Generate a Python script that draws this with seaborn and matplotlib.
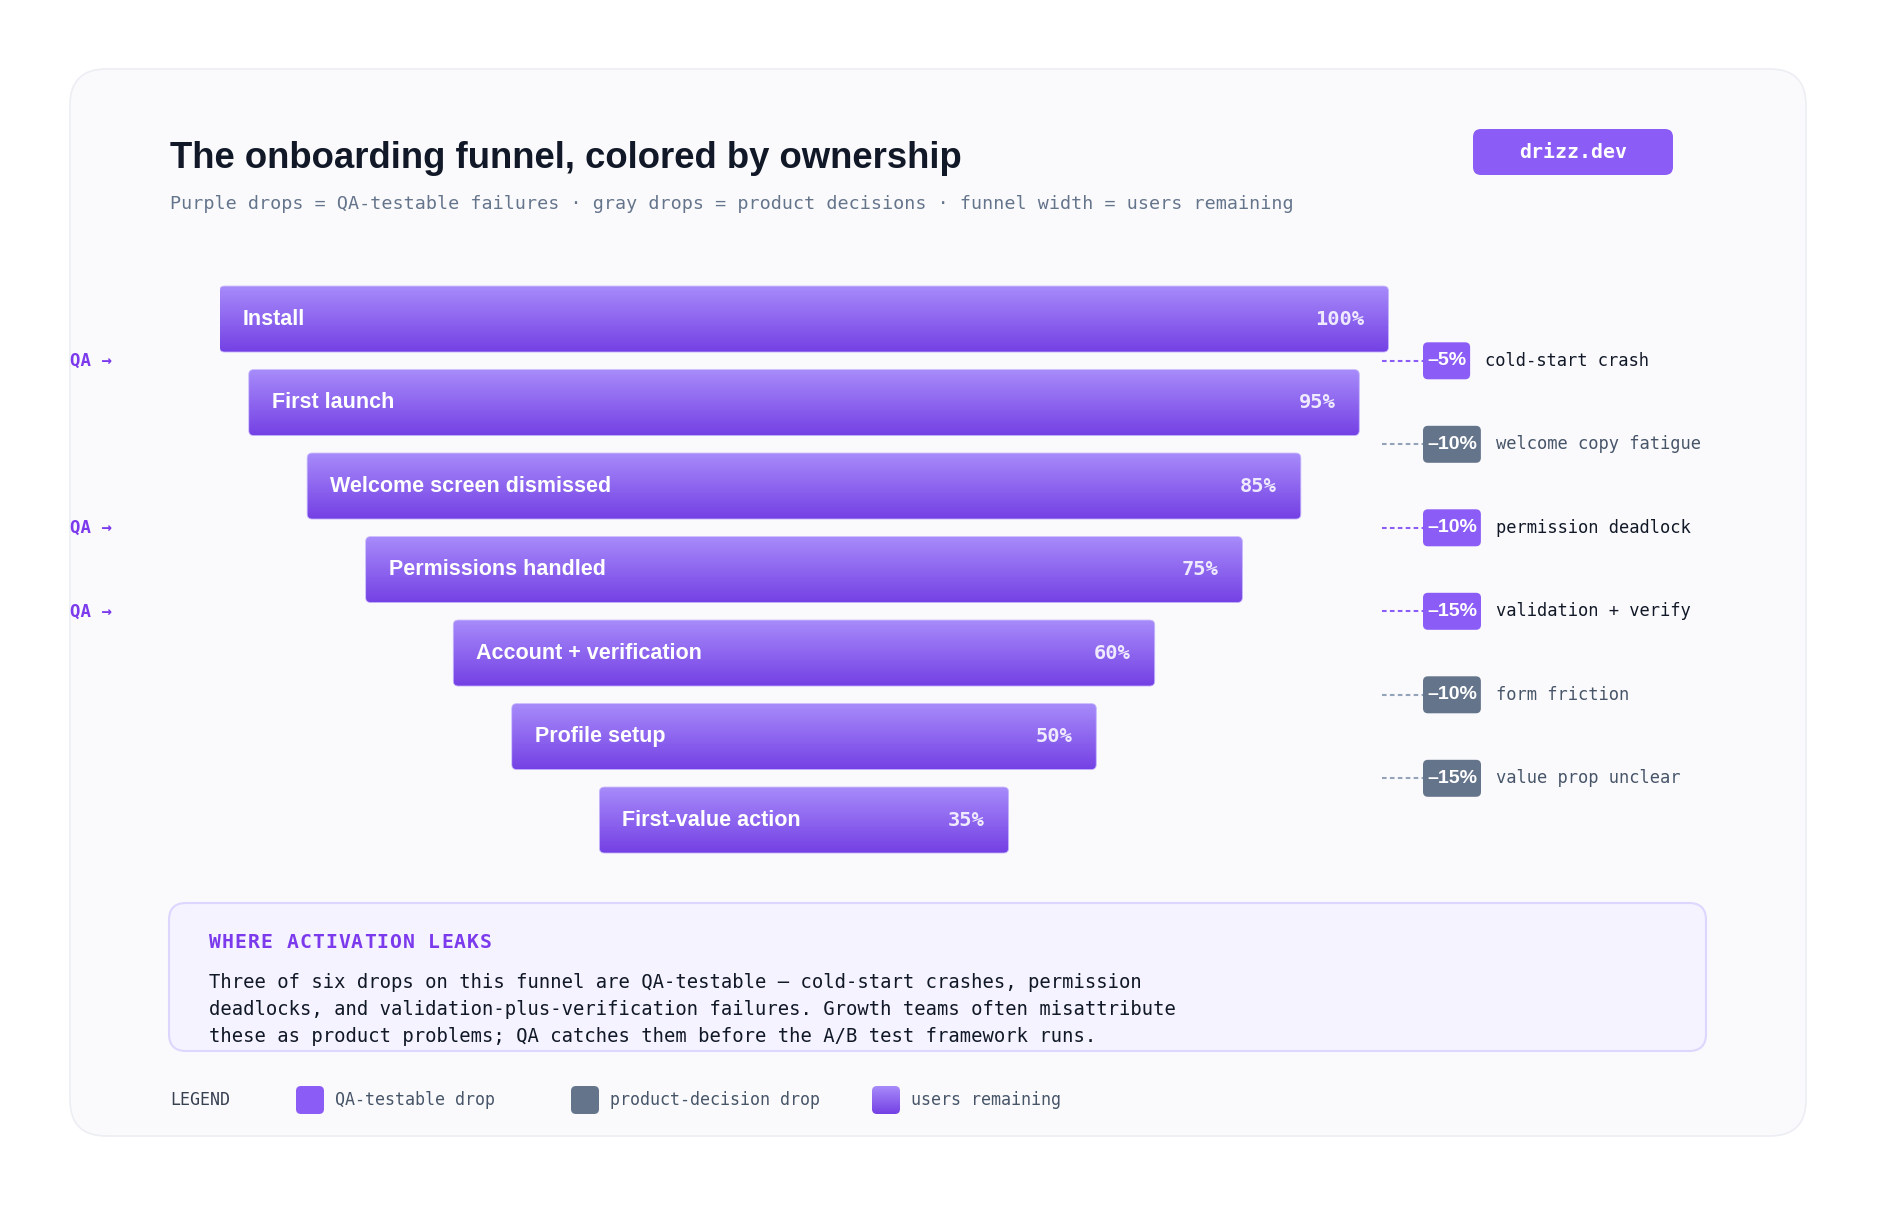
import matplotlib
matplotlib.use("Agg")
import matplotlib.pyplot as plt
import seaborn as sns
import numpy as np
import pandas as pd
from matplotlib.patches import FancyBboxPatch
from matplotlib.colors import LinearSegmentedColormap

# ---------------- data ----------------
stages = ["Install", "First launch", "Welcome screen dismissed", "Permissions handled",
          "Account + verification", "Profile setup", "First-value action"]
remaining = [100, 95, 85, 75, 60, 50, 35]

drop_pct = [5, 10, 10, 15, 10, 15]
drop_owner = ["qa", "product", "qa", "qa", "product", "product"]
drop_reason = ["cold-start crash", "welcome copy fatigue", "permission deadlock",
               "validation + verify", "form friction", "value prop unclear"]

title = "The onboarding funnel, colored by ownership"
subtitle = ("Purple drops = QA-testable failures \u00b7 gray drops = product decisions "
            "\u00b7 funnel width = users remaining")
note_title = "WHERE ACTIVATION LEAKS"
note_lines = [
    "Three of six drops on this funnel are QA-testable \u2014 cold-start crashes, permission",
    "deadlocks, and validation-plus-verification failures. Growth teams often misattribute",
    "these as product problems; QA catches them before the A/B test framework runs.",
]
legend_labels = ["QA-testable drop", "product-decision drop", "users remaining"]

# ---------------- style ----------------
SANS = "Liberation Sans"
MONO = "DejaVu Sans Mono"
PURPLE = "#8b5cf6"
PURPLE_DARK = "#7c3aed"
SLATE = "#64748b"
INK = "#111827"
grad_cmap = LinearSegmentedColormap.from_list("bar", ["#a78bfa", "#7440e4"])

sns.set_theme(style="white")

W, H = 1884, 1214
fig = plt.figure(figsize=(W / 100, H / 100), dpi=100)
fig.patch.set_facecolor("white")

# background axes in pixel units (y goes down)
bg = fig.add_axes([0, 0, 1, 1])
bg.set_xlim(0, W)
bg.set_ylim(H, 0)
bg.axis("off")

card = FancyBboxPatch((70, 69), 1736, 1067, boxstyle="round,pad=0,rounding_size=36",
                      fc="#fafafc", ec="#eceef3", lw=1.2)
bg.add_patch(card)

bg.text(170, 168, title, fontsize=26.3, fontweight="bold", color=INK, family=SANS,
        va="baseline", ha="left")
bg.text(170, 209, subtitle, fontsize=13.2, color=SLATE, family=MONO, va="baseline", ha="left")

badge = FancyBboxPatch((1473, 129), 200, 46, boxstyle="round,pad=0,rounding_size=8",
                       fc=PURPLE, ec="none")
bg.add_patch(badge)
bg.text(1473 + 100, 152, "drizz.dev", fontsize=14.3, fontweight="bold", color="white",
        family=MONO, ha="center", va="center")

# ---------------- funnel ----------------
top_px, bot_px = 277.3, 861.8
left_px, width_px = 219.5, 1169
ax = fig.add_axes([left_px / W, 1 - bot_px / H, width_px / W, (bot_px - top_px) / H])
df = pd.DataFrame({"stage": stages, "remaining": remaining})
sns.barplot(data=df, x="remaining", y="stage", orient="h", width=0.79, ax=ax,
            color=PURPLE)
n = len(stages)
ax.set_xlim(0, 100)
ax.set_ylim(n - 0.5, -0.5)
ax.axis("off")
ax.patch.set_alpha(0)

p0 = ax.transData.transform((0, 0))
p1 = ax.transData.transform((1, 1))
px_x = abs(p1[0] - p0[0])
px_y = abs(p1[1] - p0[1])
r_units = 5 / px_x
m_aspect = px_x / px_y

grad = np.linspace(0, 1, 256).reshape(-1, 1)
for patch, name, val in zip(ax.patches, stages, remaining):
    w = patch.get_width()
    h = patch.get_height()
    y0 = patch.get_y()
    x0 = (100 - w) / 2
    patch.set_x(x0)
    patch.set_visible(False)
    clip = FancyBboxPatch((x0, y0), w, h,
                          boxstyle=f"round,pad=0,rounding_size={r_units}",
                          mutation_aspect=m_aspect, fc="none", ec="#c4b5fd", lw=0.6,
                          transform=ax.transData, zorder=2.5)
    ax.add_patch(clip)
    im = ax.imshow(grad, extent=[x0, x0 + w, y0 + h, y0], origin="upper",
                   aspect="auto", cmap=grad_cmap, zorder=2)
    im.set_clip_path(clip)
    yc = y0 + h / 2
    ax.text(x0 + 23 / px_x, yc, name, color="white", fontsize=15.5, fontweight="bold",
            family=SANS, ha="left", va="center", zorder=3)
    ax.text(x0 + w - 24 / px_x, yc, f"{val}%", color="#efeafe", fontsize=14.7,
            fontweight="bold", family=MONO, ha="right", va="center", zorder=3)
ax.set_xlim(0, 100)
ax.set_ylim(n - 0.5, -0.5)

# ---------------- drop annotations ----------------
renderer = fig.canvas.get_renderer()
bx = 1423
for i, (pct, owner, reason) in enumerate(zip(drop_pct, drop_owner, drop_reason)):
    ypx = H - ax.transData.transform((0, i + 0.5))[1]
    qa = owner == "qa"
    col = PURPLE if qa else SLATE
    bg.plot([1382, bx], [ypx, ypx], color="#8b5cf6" if qa else "#94a3b8",
            lw=1.5, ls=(0, (2.2, 1.6)))
    pad = 4
    t = bg.text(bx + pad, ypx, f"\u2013{pct}%", color="white", fontsize=14,
                fontweight="bold", family=SANS, ha="left", va="center", zorder=4)
    tw = t.get_window_extent(renderer).width
    bw = tw + 2 * pad
    bg.add_patch(FancyBboxPatch((bx, ypx - 18.5), bw, 37,
                                boxstyle="round,pad=0,rounding_size=5",
                                fc=col, ec="none", zorder=3))
    bg.text(bx + bw + 15, ypx, reason, color=INK if qa else "#475569", fontsize=12.3,
            family=MONO, ha="left", va="center")
    if qa:
        bg.text(70, ypx, "QA \u2192", color=PURPLE_DARK, fontsize=12.5, fontweight="bold",
                family=MONO, ha="left", va="center")

# ---------------- note box ----------------
bg.add_patch(FancyBboxPatch((169, 903), 1537, 148, boxstyle="round,pad=0,rounding_size=17",
                            fc="#f5f3ff", ec="#ddd6fe", lw=1.5))
# spaced-out caps heading
for k, ch in enumerate(note_title):
    bg.text(209 + 12.9 * k, 943, ch, color=PURPLE_DARK, fontsize=14.2, fontweight="bold",
            family=MONO, ha="left", va="center")
for k, line in enumerate(note_lines):
    bg.text(209, 983 + 26.5 * k, line, color=INK, fontsize=13.6, family=MONO,
            ha="left", va="center")

# ---------------- legend ----------------
ly = 1100
bg.text(170, ly, "LEGEND", color="#374151", fontsize=12, family=MONO, ha="left", va="center")
sw_x = [296, 571, 872]
for k, (sx, lab) in enumerate(zip(sw_x, legend_labels)):
    sw = FancyBboxPatch((sx, ly - 14), 28, 28, boxstyle="round,pad=0,rounding_size=5",
                        fc=[PURPLE, SLATE, "none"][k], ec="none", zorder=3)
    bg.add_patch(sw)
    if k == 2:
        gim = bg.imshow(grad, extent=[sx, sx + 28, ly + 14, ly - 14], origin="upper",
                        aspect="auto", cmap=grad_cmap, zorder=3)
        gim.set_clip_path(sw)
    bg.text(sx + 39, ly, lab, color="#475569", fontsize=12, family=MONO,
            ha="left", va="center")
bg.set_xlim(0, W)
bg.set_ylim(H, 0)

fig.savefig("out.png", dpi=100, facecolor="white")
